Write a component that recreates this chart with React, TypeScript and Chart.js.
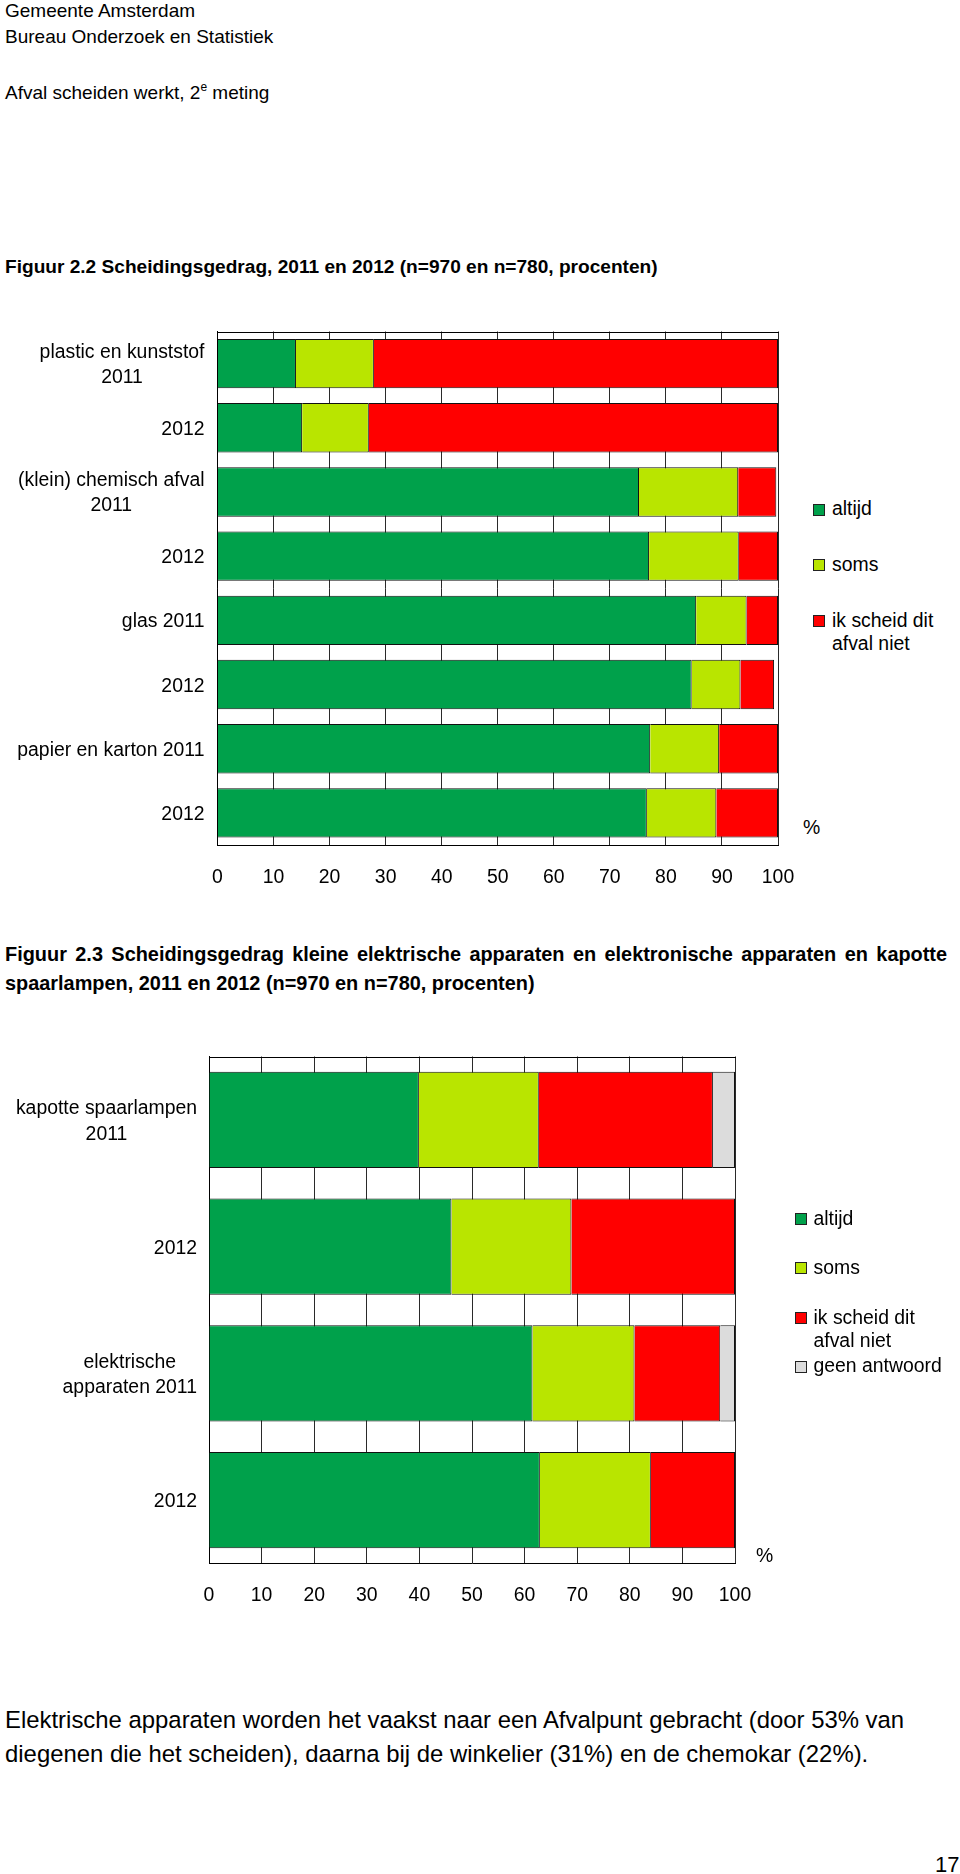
import React, { useEffect, useRef } from "react";
import { Chart, registerables } from "chart.js";

Chart.register(...registerables);

const FONT = "'Liberation Sans', Arial, Helvetica, sans-serif";
const FS = 19.4;

// ---------- Figuur 2.2 ----------
const categories1: string[][] = [
  ["plastic en kunststof", "2011"],
  ["2012"],
  ["(klein) chemisch afval", "2011"],
  ["2012"],
  ["glas 2011"],
  ["2012"],
  ["papier en karton 2011"],
  ["2012"],
];
const altijd1 = [14.0, 15.1, 75.2, 77.0, 85.4, 84.6, 77.2, 76.6];
const soms1 = [13.9, 11.9, 17.7, 16.0, 9.0, 8.7, 12.3, 12.4];
const niet1 = [72.1, 73.0, 6.8, 7.0, 5.6, 6.0, 10.5, 11.0];

// ---------- Figuur 2.3 ----------
const categories2: string[][] = [
  ["kapotte spaarlampen", "2011"],
  ["2012"],
  ["elektrische", "apparaten 2011"],
  ["2012"],
];
const altijd2 = [39.9, 46.1, 61.5, 62.9];
const soms2 = [22.8, 22.8, 19.4, 21.1];
const niet2 = [33.1, 31.1, 16.3, 16.0];
const geen2 = [4.2, null, 2.8, null];

const tickValues = [0, 10, 20, 30, 40, 50, 60, 70, 80, 90, 100];

const legend1 = ["altijd", "soms", "ik scheid dit afval niet"];
const legend2 = ["altijd", "soms", "ik scheid dit afval niet", "geen antwoord"];

const GREEN = "#00a14b";
const LIME = "#b9e500";
const RED = "#ff0000";
const GREY = "#dcdcdc";

const labelPlugin = {
  id: "catLabels",
  afterDraw(chart: any, _args: any, opts: any) {
    const { ctx, chartArea } = chart;
    const yScale = chart.scales.y;
    const labels: string[][] = chart.data.labels;
    ctx.save();
    ctx.font = `${FS}px ${FONT}`;
    ctx.fillStyle = "#000";
    ctx.textAlign = "center";
    ctx.textBaseline = "alphabetic";
    const right = chartArea.left - opts.gap;
    labels.forEach((lines, i) => {
      const cy = yScale.getPixelForValue(i);
      const maxW = Math.max(...lines.map((l) => ctx.measureText(l).width));
      const cx = right - maxW / 2;
      const n = lines.length;
      lines.forEach((line, j) => {
        ctx.fillText(line, cx, cy + 7 + (j - (n - 1) / 2) * opts.lineHeight);
      });
    });
    ctx.restore();
  },
};

const framePlugin = {
  id: "frameTop",
  afterDraw(chart: any) {
    const { ctx, chartArea } = chart;
    ctx.save();
    ctx.strokeStyle = "#000";
    ctx.lineWidth = 1;
    const y = Math.round(chartArea.top) + 0.5;
    ctx.beginPath();
    ctx.moveTo(Math.round(chartArea.left), y);
    ctx.lineTo(Math.round(chartArea.right) + 1, y);
    ctx.stroke();
    ctx.restore();
  },
};

type Geom = {
  left: number;
  top: number;
  right: number;
  axisH: number;
  tickPad: number;
  bar: number;
  gap: number;
  lineHeight: number;
};

function makeConfig(labels: string[][], series: { label: string; data: (number | null)[]; color: string }[], g: Geom): any {
  return {
    type: "bar",
    data: {
      labels,
      datasets: series.map((s) => ({
        label: s.label,
        data: s.data,
        backgroundColor: s.color,
        borderColor: "#111",
        borderWidth: 1,
        categoryPercentage: 1,
        barPercentage: g.bar,
      })),
    },
    options: {
      indexAxis: "y",
      responsive: false,
      animation: false,
      events: [],
      layout: { padding: { top: g.top, right: g.right, left: 0, bottom: 0 } },
      plugins: {
        legend: { display: false },
        tooltip: { enabled: false },
        catLabels: { gap: g.gap, lineHeight: g.lineHeight },
      },
      scales: {
        x: {
          type: "linear",
          stacked: true,
          min: 0,
          max: 100,
          afterBuildTicks: (s: any) => {
            s.ticks = tickValues.map((v) => ({ value: v }));
          },
          ticks: {
            color: "#000",
            font: { family: FONT, size: FS },
            padding: g.tickPad,
            maxRotation: 0,
            autoSkip: false,
          },
          grid: { color: "#2a2a2a", lineWidth: 1, drawTicks: false },
          border: { color: "#000", width: 1 },
          afterFit: (s: any) => {
            s.height = g.axisH;
            s.paddingLeft = 0;
            s.paddingRight = 0;
          },
        },
        y: {
          stacked: true,
          ticks: { display: false },
          grid: { display: false },
          border: { color: "#000", width: 1 },
          afterFit: (s: any) => {
            s.width = g.left;
          },
        },
      },
    },
    plugins: [labelPlugin, framePlugin],
  };
}

function BarChart({ top, width, height, config }: { top: number; width: number; height: number; config: any }) {
  const ref = useRef<HTMLCanvasElement | null>(null);
  useEffect(() => {
    if (!ref.current) return;
    const chart = new Chart(ref.current, config);
    return () => chart.destroy();
  }, []);
  return (
    <canvas
      ref={ref}
      width={width}
      height={height}
      style={{ position: "absolute", left: 0, top, width, height }}
    />
  );
}

function T({ x, b, size = FS, bold = false, ws = 0, children }: { x: number; b: number; size?: number; bold?: boolean; ws?: number; children: any }) {
  return (
    <div
      style={{
        position: "absolute",
        left: x,
        top: b - 0.8465 * size,
        fontSize: size,
        lineHeight: `${size}px`,
        fontWeight: bold ? 700 : 400,
        wordSpacing: ws,
        whiteSpace: "nowrap",
        fontFamily: FONT,
        color: "#000",
      }}
    >
      {children}
    </div>
  );
}

function Swatch({ x, cy, color }: { x: number; cy: number; color: string }) {
  return (
    <div
      style={{
        position: "absolute",
        left: x,
        top: cy - 6,
        width: 12,
        height: 12,
        boxSizing: "border-box",
        border: "1px solid #222",
        background: color,
      }}
    />
  );
}

export default function App() {
  const cfg1 = makeConfig(
    categories1,
    [
      { label: legend1[0], data: altijd1, color: GREEN },
      { label: legend1[1], data: soms1, color: LIME },
      { label: legend1[2], data: niet1, color: RED },
    ],
    { left: 217.5, top: 11.5, right: 22, axisH: 55, tickPad: 21, bar: 0.77, gap: 13, lineHeight: 25 }
  );
  const cfg2 = makeConfig(
    categories2,
    [
      { label: legend2[0], data: altijd2, color: GREEN },
      { label: legend2[1], data: soms2, color: LIME },
      { label: legend2[2], data: niet2, color: RED },
      { label: legend2[3], data: geen2, color: GREY },
    ],
    { left: 209, top: 16.5, right: 65, axisH: 66.5, tickPad: 21, bar: 0.76, gap: 12, lineHeight: 25.5 }
  );

  return (
    <div style={{ position: "absolute", left: 0, top: 0, width: 960, height: 1874, background: "#fff", overflow: "hidden", fontFamily: FONT }}>
      <T x={5} b={16.7} size={19}>Gemeente Amsterdam</T>
      <T x={5} b={43.3} size={19}>Bureau Onderzoek en Statistiek</T>
      <T x={5} b={98.7} size={19}>
        Afval scheiden werkt, 2
        <span style={{ fontSize: 12, position: "relative", top: -8 }}>e</span> meting
      </T>

      <T x={5} b={273} size={19.1} bold>Figuur 2.2 Scheidingsgedrag, 2011 en 2012 (n=970 en n=780, procenten)</T>

      <BarChart top={320} width={800} height={580} config={cfg1} />
      <T x={803} b={834}>%</T>
      <Swatch x={813} cy={509.5} color={GREEN} />
      <T x={832} b={515.7}>altijd</T>
      <Swatch x={813} cy={565} color={LIME} />
      <T x={832} b={571}>soms</T>
      <Swatch x={813} cy={621} color={RED} />
      <T x={832} b={627.3}>ik scheid dit</T>
      <T x={832} b={650}>afval niet</T>

      <T x={5} b={962} size={19.9} bold ws={2.9}>Figuur 2.3 Scheidingsgedrag kleine elektrische apparaten en elektronische apparaten en kapotte</T>
      <T x={5} b={991} size={19.9} bold>spaarlampen, 2011 en 2012 (n=970 en n=780, procenten)</T>

      <BarChart top={1040} width={800} height={590} config={cfg2} />
      <T x={756} b={1562}>%</T>
      <Swatch x={794.5} cy={1219.3} color={GREEN} />
      <T x={813.5} b={1225}>altijd</T>
      <Swatch x={794.5} cy={1268.3} color={LIME} />
      <T x={813.5} b={1274}>soms</T>
      <Swatch x={794.5} cy={1318.3} color={RED} />
      <T x={813.5} b={1324}>ik scheid dit</T>
      <T x={813.5} b={1347.3}>afval niet</T>
      <Swatch x={794.5} cy={1366.5} color={GREY} />
      <T x={813.5} b={1372.7}>geen antwoord</T>

      <T x={5} b={1728} size={23.9}>Elektrische apparaten worden het vaakst naar een Afvalpunt gebracht (door 53% van</T>
      <T x={5} b={1762} size={23.9}>diegenen die het scheiden), daarna bij de winkelier (31%) en de chemokar (22%).</T>
      <T x={935} b={1873} size={22}>17</T>
    </div>
  );
}
